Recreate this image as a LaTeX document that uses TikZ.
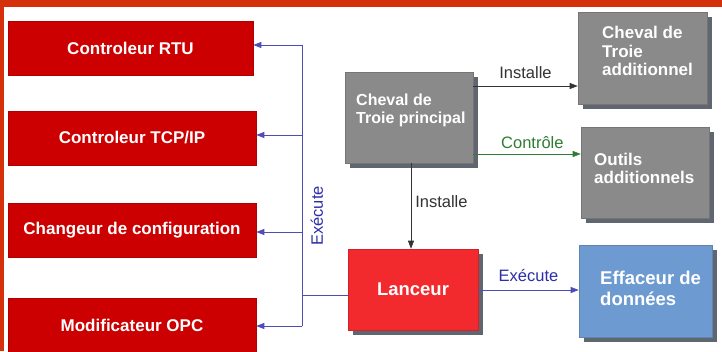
\documentclass[tikz,border=0pt]{standalone}
\usepackage{fontspec}
\setmainfont{Liberation Sans}
\usetikzlibrary{arrows.meta,shadows}

\definecolor{frameorange}{HTML}{D4300C}
\definecolor{boxred}{HTML}{CC0000}
\definecolor{launchred}{HTML}{F22A2E}
\definecolor{boxgray}{HTML}{8A8A8A}
\definecolor{boxblue}{HTML}{6D9BD1}
\definecolor{shadowgray}{HTML}{5F6670}
\definecolor{labelgray}{HTML}{333333}
\definecolor{execblue}{HTML}{2E2EA8}
\definecolor{ctrlgreen}{HTML}{2E7D32}

\tikzset{
  box/.style={draw=#1!85!black, line width=0.6pt, fill=#1, inner sep=0pt},
  redbox/.style={box=boxred, text=white, font=\bfseries\fontsize{17}{18.5}\selectfont},
  shadowed/.style={drop shadow={shadow xshift=5pt, shadow yshift=-5pt, fill=shadowgray, opacity=1}},
  graybox/.style={box=boxgray, shadowed},
  % multi-line box texts are placed by the baseline of their last line
  boxtext/.style={text=white, align=left, inner sep=0pt, anchor=base west,
    font=\bfseries\fontsize{17}{18.5}\selectfont},
  edgelabel/.style={inner sep=0pt, font=\fontsize{16.5}{18}\selectfont},
  tip/.style={-{Triangle[length=8pt,width=6pt]}},
  execline/.style={draw=execblue!85!white, line width=0.7pt},
}

\begin{document}
\begin{tikzpicture}[x=1pt,y=-1pt]
\useasboundingbox (0,0) rectangle (722,351);
\fill[white] (0,0) rectangle (722,351);
% orange frame
\fill[frameorange] (0,0) rectangle (722,7);
\fill[frameorange] (0,0) rectangle (4,351);

% modules on the left
\node[redbox, minimum width=245, minimum height=54] (rtu) at (130.5,48) {Controleur RTU};
\node[redbox, minimum width=248, minimum height=54] (tcp) at (132,138) {Controleur TCP/IP};
\node[redbox, minimum width=248, minimum height=54] (chg) at (132,230) {Changeur de configuration};
\node[redbox, minimum width=248, minimum height=54] (opc) at (132,325) {Modificateur OPC};

% trojans and tools
\node[graybox, minimum width=128, minimum height=91] (chp) at (409,117.5) {};
\node[boxtext, font=\bfseries\fontsize{16}{18}\selectfont] (chptext) at (356,123.5) {Cheval de\\Troie principal};

\node[graybox, minimum width=129, minimum height=92] (cha) at (642.5,58) {};
\node[boxtext] (chatext) at (602,75.5) {Cheval de\\Troie\\additionnel};

\node[graybox, minimum width=128, minimum height=91] (outils) at (645,172.5) {};
\node[boxtext] (outilstext) at (594,183.5) {Outils\\additionnels};

\node[box=launchred, shadowed, minimum width=130, minimum height=81, text=white,
  font=\bfseries\fontsize{18.5}{20}\selectfont] (lanceur) at (413,289.5) {Lanceur};

\node[box=boxblue, shadowed, minimum width=133, minimum height=92] (eff) at (645.5,291) {};
\node[boxtext, font=\bfseries\fontsize{18.5}{21.5}\selectfont] (efftext) at (600,305.5) {Effaceur de\\données};

% connectors from the main trojan
\draw[draw=labelgray, line width=0.6pt, tip] (chp.east |- 0,86) -- (cha.west |- 0,86)
  node[midway, above=7pt, edgelabel, text=labelgray] {Installe};
\draw[draw=ctrlgreen, line width=0.6pt, tip] (chp.east |- 0,154) -- (outils.west |- 0,154)
  node[pos=0.55, above=5pt, edgelabel, text=ctrlgreen] {Contrôle};
\draw[draw=labelgray, line width=0.6pt, tip] (chp.south -| 411,0) -- (lanceur.north -| 411,0)
  node[pos=0.45, right=4pt, edgelabel, text=labelgray] {Installe};

% launcher executes the wiper
\draw[execline, tip] (lanceur.east |- 0,290) -- (eff.west |- 0,290)
  node[midway, above=8pt, edgelabel, text=execblue] {Exécute};

% launcher executes the left modules
\coordinate (bus) at (302,295);
\draw[execline] (lanceur.west |- bus) -- (bus);
\draw[execline] (302,45) -- (302,326);
\draw[execline, tip] (302,45) -- (rtu.east |- 0,45);
\draw[execline, tip] (302,135) -- (tcp.east |- 0,135);
\draw[execline, tip] (302,232) -- (chg.east |- 0,232);
\draw[execline, tip] (302,326) -- (opc.east |- 0,326);
\node[edgelabel, text=execblue, rotate=90] (execlabel) at (317,216) {Exécute};
\end{tikzpicture}
\end{document}
